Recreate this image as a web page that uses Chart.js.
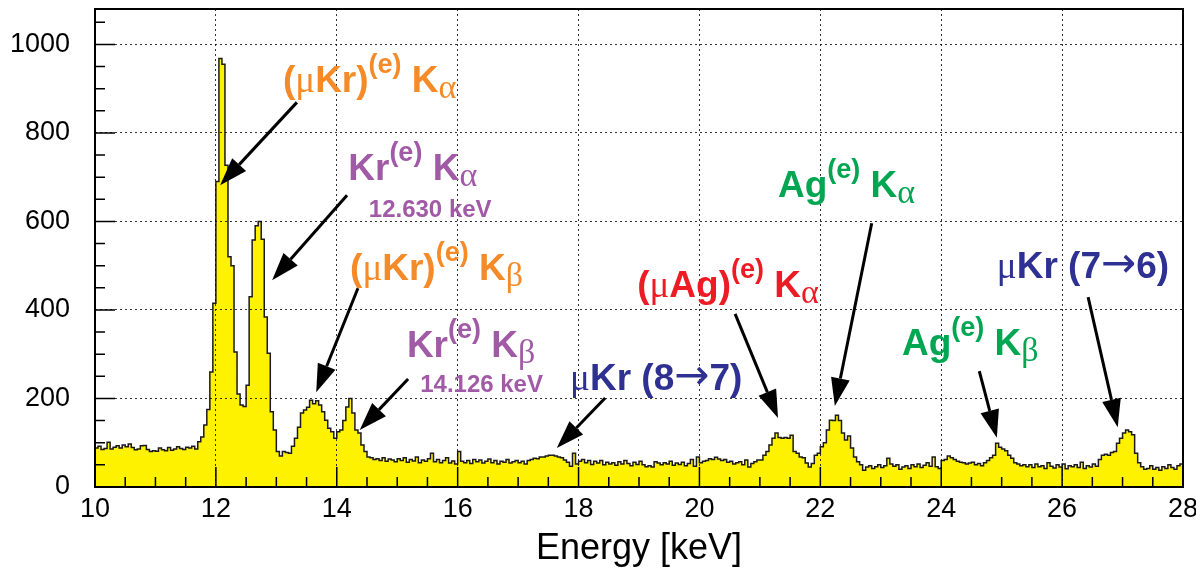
<!DOCTYPE html>
<html>
<head>
<meta charset="utf-8">
<script src="https://cdn.jsdelivr.net/npm/chart.js@4.4.1/dist/chart.umd.min.js"></script>
<style>
  html, body { margin: 0; padding: 0; background: #fff; }
</style>
</head>
<body>
<canvas id="spectrum" width="1196" height="571"></canvas>
<script>
// histogram: 0.05 keV bins starting at 10 keV
const binStart = 10;
const binWidth = 0.05;
const counts = [
  // 10.00 - 11.70
  88, 92, 85, 87, 101, 86, 90, 93, 88, 95,
  91, 97, 89, 84, 86, 93, 94, 85, 80, 82,
  81, 88, 84, 82, 89, 83, 86, 91, 87, 85,
  90, 88, 92, 86, 102,
  // 11.75 - 13.00
  113, 140, 175, 260, 415, 690, 968, 955, 727, 520,
  500, 305, 210, 185, 182, 230, 430, 558, 590, 600,
  560, 384, 302, 170, 129, 80,
  // 13.05 - 14.50
  70, 80, 78, 76, 92, 110, 135, 167, 174, 180,
  196, 188, 195, 185, 170, 151, 133, 125, 110, 125,
  129, 150, 181, 200, 167, 129, 122, 95, 80, 68,
  // 14.55 - 17.00
  66, 62, 64, 60, 66, 58, 63, 61, 57, 64,
  60, 66, 56, 62, 59, 68, 55, 61, 58, 64,
  76, 57, 62, 55, 60, 66, 54, 59, 52, 80,
  58, 55, 60, 53, 62, 57, 61, 54, 58, 63,
  55, 60, 52, 58, 56, 62, 54, 57, 60, 55,
  // 17.05 - 18.50
  58, 52, 60, 62, 65, 64, 68, 68, 70, 72,
  72, 70, 68, 66, 61, 56, 47, 76, 52, 58,
  62, 55, 60, 51, 58, 54, 60, 50, 56, 52,
  // 18.55 - 20.60
  55, 49, 57, 52, 60, 53, 48, 56, 51, 58,
  50, 46, 48, 45, 57, 54, 50, 55, 52, 58,
  49, 54, 51, 56, 48, 53, 62, 47, 68, 55,
  58, 60, 64, 62, 67, 63, 60, 62, 56, 58,
  52, 55,
  // 20.65 - 22.75
  57, 50, 61, 45, 53, 57, 61, 61, 72, 80,
  95, 110, 122, 112, 110, 112, 110, 117, 80, 76,
  68, 66, 54, 45, 53, 72, 76, 91, 100, 129,
  151, 150, 162, 150, 122, 106, 115, 88, 68, 57,
  50, 38, 45,
  // 22.80 - 24.80
  48, 42, 46, 50, 44, 48, 65, 52, 47, 50,
  40, 45, 48, 42, 50, 46, 52, 44, 49, 55,
  47, 68, 46, 42, 60, 62, 70, 66, 62, 58,
  56, 55, 52, 54, 56, 50, 53, 48, 55, 60,
  66,
  // 24.85 - 25.40
  72, 99, 90, 86, 82, 72, 65, 55, 52, 48, 50, 46,
  // 25.45 - 26.60
  50, 44, 52, 46, 48, 42, 55, 47, 43, 50,
  45, 52, 41, 48, 46, 50, 44, 56, 42, 48,
  45, 52, 47, 62,
  // 26.65 - 27.35
  72, 74, 72, 78, 80, 99, 110, 122, 129, 125, 118, 76, 55, 46, 40,
  // 27.40 - 27.95
  42, 48, 40, 44, 38, 46, 42, 50, 44, 40, 48, 52
];

const xMajor = [10, 12, 14, 16, 18, 20, 22, 24, 26, 28];
const yMajor = [0, 200, 400, 600, 800, 1000];
const xTitle = 'Energy [keV]';

// peak labels (in keV / counts) and arrows
const orange = '#f58a28', purple = '#a15aa6', blue = '#2e3192', red = '#ed1c24', green = '#00a651';
const labels = [
  { x: 13.11, y: 892, color: orange, parts: [['(', 'b'], ['\u03bc', 'g'], ['Kr)', 'b'], ['(e)', 'sup'], [' K', 'b'], ['\u03b1', 'sub']] },
  { x: 14.19, y: 693, color: purple, parts: [['Kr', 'b'], ['(e)', 'sup'], [' K', 'b'], ['\u03b1', 'sub']] },
  { x: 14.53, y: 609, color: purple, parts: [['12.630 keV', 'small']] },
  { x: 14.22, y: 467, color: orange, parts: [['(', 'b'], ['\u03bc', 'g'], ['Kr)', 'b'], ['(e)', 'sup'], [' K', 'b'], ['\u03b2', 'sub']] },
  { x: 15.16, y: 293, color: purple, parts: [['Kr', 'b'], ['(e)', 'sup'], [' K', 'b'], ['\u03b2', 'sub']] },
  { x: 15.38, y: 214, color: purple, parts: [['14.126 keV', 'small']] },
  { x: 17.86, y: 219, color: blue, parts: [['\u03bc', 'g'], ['Kr (8', 'b'], ['\u2192', 'arr'], ['7)', 'b']] },
  { x: 18.97, y: 429, color: red, parts: [['(', 'b'], ['\u03bc', 'g'], ['Ag)', 'b'], ['(e)', 'sup'], [' K', 'b'], ['\u03b1', 'sub']] },
  { x: 21.30, y: 655, color: green, parts: [['Ag', 'b'], ['(e)', 'sup'], [' K', 'b'], ['\u03b1', 'sub']] },
  { x: 23.35, y: 298, color: green, parts: [['Ag', 'b'], ['(e)', 'sup'], [' K', 'b'], ['\u03b2', 'sub']] },
  { x: 24.92, y: 472, color: blue, parts: [['\u03bc', 'g'], ['Kr (7', 'b'], ['\u2192', 'arr'], ['6)', 'b']] }
];
const arrows = [
  [13.34, 869, 12.07, 682],
  [14.17, 659, 12.93, 467],
  [14.35, 449, 13.66, 214],
  [15.18, 244, 14.38, 129],
  [18.44, 201, 17.64, 88],
  [20.59, 391, 21.30, 156],
  [22.85, 596, 22.24, 183],
  [24.63, 262, 24.92, 111],
  [26.43, 429, 26.92, 135]
];

const fonts = {
  b: 'bold 37px "Liberation Sans"',
  g: '37px "Liberation Serif"',
  sup: 'bold 27px "Liberation Sans"',
  sub: '34px "Liberation Serif"',
  arr: '42px "DejaVu Sans"',
  small: 'bold 24px "Liberation Sans"'
};
const shift = { sup: -19, sub: 6, arr: -1 };

const points = counts.map((c, i) => ({ x: binStart + i * binWidth, y: c }));
points.push({ x: binStart + counts.length * binWidth, y: counts[counts.length - 1] });

const annotations = {
  id: 'annotations',
  afterDraw(chart) {
    const { ctx, scales: { x, y } } = chart;
    ctx.save();
    // arrows
    ctx.strokeStyle = '#000';
    ctx.fillStyle = '#000';
    ctx.lineWidth = 3;
    arrows.forEach(([x1, y1, x2, y2]) => {
      const ax = x.getPixelForValue(x1), ay = y.getPixelForValue(y1);
      const bx = x.getPixelForValue(x2), by = y.getPixelForValue(y2);
      const ang = Math.atan2(by - ay, bx - ax);
      const len = 28, hw = 9.5;
      const baseX = bx - len * Math.cos(ang), baseY = by - len * Math.sin(ang);
      ctx.beginPath();
      ctx.moveTo(ax, ay);
      ctx.lineTo(baseX, baseY);
      ctx.stroke();
      ctx.beginPath();
      ctx.moveTo(bx, by);
      ctx.lineTo(baseX - hw * Math.sin(ang), baseY + hw * Math.cos(ang));
      ctx.lineTo(baseX + hw * Math.sin(ang), baseY - hw * Math.cos(ang));
      ctx.closePath();
      ctx.fill();
    });
    // labels
    ctx.textBaseline = 'alphabetic';
    ctx.textAlign = 'left';
    labels.forEach(l => {
      let px = x.getPixelForValue(l.x);
      const py = y.getPixelForValue(l.y);
      ctx.fillStyle = l.color;
      l.parts.forEach(([t, s]) => {
        ctx.font = fonts[s];
        ctx.fillText(t, px, py + (shift[s] || 0));
        px += ctx.measureText(t).width;
      });
    });
    ctx.restore();
  }
};

const rootAxes = {
  id: 'rootAxes',
  afterDraw(chart) {
    const { ctx, chartArea: a, scales: { x, y } } = chart;
    ctx.save();
    ctx.strokeStyle = '#000';
    ctx.lineWidth = 1.5;
    ctx.beginPath();
    for (let v = 10; v <= 28; v += 0.5) {
      const px = x.getPixelForValue(v);
      const len = v % 2 === 0 ? 20 : 10;
      ctx.moveTo(px, a.bottom);
      ctx.lineTo(px, a.bottom - len);
    }
    for (let v = 0; v <= 1050; v += 50) {
      const py = y.getPixelForValue(v);
      const len = v % 200 === 0 ? 20 : 10;
      ctx.moveTo(a.left, py);
      ctx.lineTo(a.left + len, py);
    }
    ctx.stroke();
    ctx.lineWidth = 2;
    ctx.strokeRect(a.left, a.top, a.right - a.left, a.bottom - a.top);
    ctx.restore();
  }
};

const gridColor = (lo, hi, step) => c => {
  const v = c.tick.value;
  return v > lo && v < hi && v % step === 0 ? 'rgba(0,0,0,0.8)' : 'rgba(0,0,0,0)';
};

const noPad = s => { s.paddingTop = 0; s.paddingBottom = 0; s.paddingLeft = 0; s.paddingRight = 0; };

new Chart(document.getElementById('spectrum'), {
  type: 'line',
  data: {
    datasets: [{
      data: points,
      stepped: true,
      fill: 'origin',
      backgroundColor: '#fff200',
      borderColor: '#1a1a1a',
      borderWidth: 1.5,
      pointRadius: 0
    }]
  },
  options: {
    responsive: false,
    animation: false,
    layout: { padding: { top: 9, right: 13, left: 0, bottom: 0 } },
    plugins: { legend: { display: false }, tooltip: { enabled: false } },
    scales: {
      x: {
        type: 'linear',
        min: 10,
        max: 28,
        afterFit: s => { s.height = 84; noPad(s); },
        ticks: {
          stepSize: 2,
          autoSkip: false,
          maxRotation: 0,
          padding: 6,
          color: '#000',
          font: { family: 'Liberation Sans', size: 27 }
        },
        grid: { z: 1, drawTicks: false, color: gridColor(10, 28, 2), lineWidth: 1 },
        border: { display: false, dash: [2, 3] },
        title: {
          display: true,
          text: xTitle,
          color: '#000',
          padding: { top: 0, bottom: 0 },
          font: { family: 'Liberation Sans', size: 36, lineHeight: 1.2 }
        }
      },
      y: {
        min: 0,
        max: 1080,
        afterFit: s => { s.width = 95; noPad(s); },
        ticks: {
          stepSize: 200,
          padding: 25,
          color: '#000',
          font: { family: 'Liberation Sans', size: 27 },
          callback: v => (yMajor.includes(v) ? v : '')
        },
        grid: { z: 1, drawTicks: false, color: gridColor(0, 1080, 200), lineWidth: 1 },
        border: { display: false, dash: [2, 3] }
      }
    }
  },
  plugins: [rootAxes, annotations]
});
</script>
</body>
</html>
